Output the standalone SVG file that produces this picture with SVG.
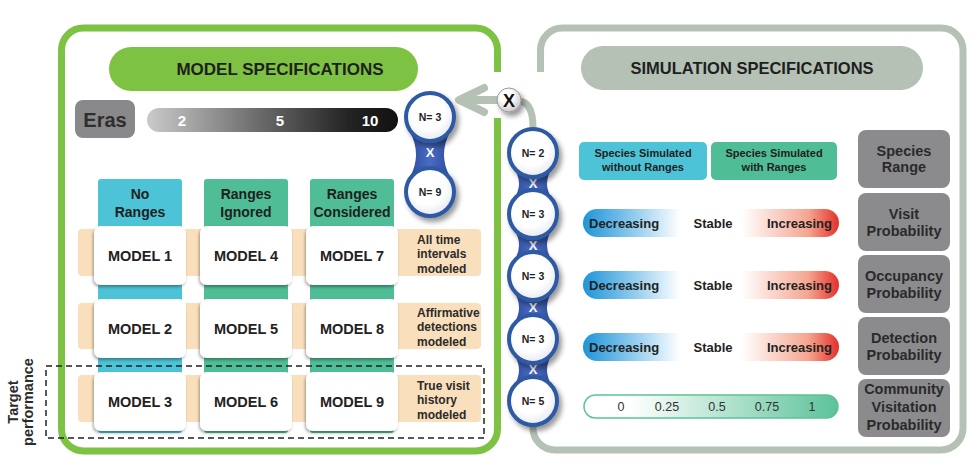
<svg xmlns="http://www.w3.org/2000/svg" width="978" height="471" viewBox="0 0 978 471">
<style>
.t{font-family:"Liberation Sans",Arial,sans-serif;font-weight:bold;}
.r{font-family:"Liberation Sans",Arial,sans-serif;font-weight:normal;}
.c{text-anchor:middle;}
.model{fill:#fff;}
.mt{font-size:14.5px;fill:#222;}
.rowlab{font-size:12px;fill:#2b2b2b;}
.gbox{fill:#8b8b8d;}
.gt{font-size:14.5px;fill:#2a2a2a;}
.ring{fill:url(#ringFill);stroke:#2e5aa3;stroke-width:4;}
.nt{font-size:10.5px;fill:#222;}
.xt{font-size:13px;fill:#fff;}
.neck{fill:url(#blueG);}
.tr{font-size:13px;fill:#222;}
</style>
<defs>
<linearGradient id="erasG" x1="0" y1="0" x2="1" y2="0">
<stop offset="0" stop-color="#cacaca"/><stop offset="0.45" stop-color="#6a6a6a"/><stop offset="0.8" stop-color="#242424"/><stop offset="1" stop-color="#111"/>
</linearGradient>
<linearGradient id="trendG" x1="0" y1="0" x2="1" y2="0">
<stop offset="0" stop-color="#1e95d8"/><stop offset="0.12" stop-color="#62b5e5"/><stop offset="0.38" stop-color="#fff"/><stop offset="0.62" stop-color="#fff"/><stop offset="0.88" stop-color="#f5a590"/><stop offset="1" stop-color="#e4302a"/>
</linearGradient>
<linearGradient id="commG" x1="0" y1="0" x2="1" y2="0">
<stop offset="0" stop-color="#fff"/><stop offset="0.18" stop-color="#fff"/><stop offset="1" stop-color="#5cc299"/>
</linearGradient>
<linearGradient id="blueG" x1="0" y1="0" x2="1" y2="0">
<stop offset="0" stop-color="#2d4c9c"/><stop offset="0.5" stop-color="#4a6cc4"/><stop offset="1" stop-color="#2d4c9c"/>
</linearGradient>
<radialGradient id="ringFill" cx="0.45" cy="0.4" r="0.6">
<stop offset="0.6" stop-color="#fff"/><stop offset="1" stop-color="#e6e9f2"/>
</radialGradient>
<radialGradient id="xFill" cx="0.4" cy="0.35" r="0.65">
<stop offset="0.4" stop-color="#fff"/><stop offset="1" stop-color="#c9c9c9"/>
</radialGradient>
<filter id="msh" x="-20%" y="-20%" width="140%" height="150%">
<feDropShadow dx="-1" dy="2" stdDeviation="1.5" flood-color="#000" flood-opacity="0.35"/>
</filter>
<filter id="csh" x="-30%" y="-30%" width="170%" height="170%">
<feDropShadow dx="3" dy="4" stdDeviation="2.5" flood-color="#000" flood-opacity="0.4"/>
</filter>
</defs>

<g id="frames" fill="none">
<path d="M497.5,118 L497.5,429 A22,22 0 0 1 475.5,451 L83.5,451 A22,22 0 0 1 61.5,429 L61.5,50 A22,22 0 0 1 83.5,28 L475.5,28 A22,22 0 0 1 497.5,50 L497.5,72" stroke="#7dc242" stroke-width="7"/>
<path d="M540.5,72 L540.5,50 A22,22 0 0 1 562.5,28 L941,28 A22,22 0 0 1 963,50 L963,428 A22,22 0 0 1 941,450 L555,450 A22,22 0 0 1 533,428 L533,390" stroke="#b5c1b5" stroke-width="7"/>
</g>

<g id="model-header">
<rect x="109" y="47" width="309" height="44" rx="22" fill="#7dc242"/>
<text class="t c" x="280" y="75" font-size="17" fill="#1f1f1f">MODEL SPECIFICATIONS</text>
</g>
<g id="sim-header">
<rect x="581" y="46" width="342" height="44" rx="22" fill="#b5c1b5"/>
<text class="t c" x="752" y="74" font-size="16.5" fill="#1f1f1f">SIMULATION SPECIFICATIONS</text>
</g>

<g id="eras">
<rect x="75" y="100" width="60" height="38" rx="8" fill="#89898b"/>
<text class="t c" x="105" y="126.5" font-size="20" fill="#2e2e2e">Eras</text>
</g>
<g id="eras-bar">
<rect x="147" y="108" width="251" height="24" rx="12" fill="url(#erasG)"/>
<text class="t c" x="182" y="125.5" font-size="15" fill="#fff">2</text>
<text class="t c" x="280" y="125.5" font-size="15" fill="#fff">5</text>
<text class="t c" x="370" y="125.5" font-size="15" fill="#fff">10</text>
</g>

<g id="columns">
<rect x="98" y="179" width="84" height="254" rx="3" fill="#4cc3d6"/>
<rect x="204" y="179" width="84" height="254" rx="3" fill="#4fbd95"/>
<rect x="310" y="179" width="84" height="254" rx="3" fill="#4fbd95"/>
<text class="t c" x="140" y="199" font-size="14" fill="#1f1f1f">No</text>
<text class="t c" x="140" y="217" font-size="14" fill="#1f1f1f">Ranges</text>
<text class="t c" x="246" y="199" font-size="14" fill="#1f1f1f">Ranges</text>
<text class="t c" x="246" y="217" font-size="14" fill="#1f1f1f">Ignored</text>
<text class="t c" x="352" y="199" font-size="14" fill="#1f1f1f">Ranges</text>
<text class="t c" x="352" y="217" font-size="14" fill="#1f1f1f">Considered</text>
</g>

<g id="rows">
<rect x="78" y="229" width="403" height="47" rx="4" fill="#fadfbc"/>
<rect x="78" y="303" width="403" height="46" rx="4" fill="#fadfbc"/>
<rect x="78" y="375" width="403" height="47" rx="4" fill="#fadfbc"/>
<text class="t rowlab" x="417" y="244">All time</text>
<text class="t rowlab" x="417" y="258">intervals</text>
<text class="t rowlab" x="417" y="273">modeled</text>
<text class="t rowlab" x="417" y="317">Affirmative</text>
<text class="t rowlab" x="417" y="331">detections</text>
<text class="t rowlab" x="417" y="346">modeled</text>
<text class="t rowlab" x="417" y="390">True visit</text>
<text class="t rowlab" x="417" y="404">history</text>
<text class="t rowlab" x="417" y="419">modeled</text>
</g>

<g id="model1"><rect class="model" x="94" y="226" width="92" height="59" rx="7" filter="url(#msh)"/><text class="t c mt" x="140" y="260.5">MODEL 1</text></g>
<g id="model4"><rect class="model" x="200" y="226" width="92" height="59" rx="7" filter="url(#msh)"/><text class="t c mt" x="246" y="260.5">MODEL 4</text></g>
<g id="model7"><rect class="model" x="306" y="226" width="92" height="59" rx="7" filter="url(#msh)"/><text class="t c mt" x="352" y="260.5">MODEL 7</text></g>
<g id="model2"><rect class="model" x="94" y="299" width="92" height="59" rx="7" filter="url(#msh)"/><text class="t c mt" x="140" y="333.5">MODEL 2</text></g>
<g id="model5"><rect class="model" x="200" y="299" width="92" height="59" rx="7" filter="url(#msh)"/><text class="t c mt" x="246" y="333.5">MODEL 5</text></g>
<g id="model8"><rect class="model" x="306" y="299" width="92" height="59" rx="7" filter="url(#msh)"/><text class="t c mt" x="352" y="333.5">MODEL 8</text></g>
<g id="model3"><rect class="model" x="94" y="372" width="92" height="59" rx="7" filter="url(#msh)"/><text class="t c mt" x="140" y="406.5">MODEL 3</text></g>
<g id="model6"><rect class="model" x="200" y="372" width="92" height="59" rx="7" filter="url(#msh)"/><text class="t c mt" x="246" y="406.5">MODEL 6</text></g>
<g id="model9"><rect class="model" x="306" y="372" width="92" height="59" rx="7" filter="url(#msh)"/><text class="t c mt" x="352" y="406.5">MODEL 9</text></g>

<g id="target">
<rect x="46" y="366" width="438" height="72" fill="none" stroke="#222" stroke-width="1.5" stroke-dasharray="6 4"/>
<g transform="translate(0,402) rotate(-90)">
<text class="t c" x="0" y="17.5" font-size="14.5" fill="#2b2b2b">Target</text>
<text class="t c" x="0" y="32.5" font-size="14.5" fill="#2b2b2b">performance</text>
</g>
</g>

<g id="species-boxes">
<rect x="579" y="142" width="128" height="38" rx="5" fill="#4cc3d6"/>
<rect x="711" y="142" width="126" height="38" rx="5" fill="#4fbd95"/>
<text class="t c" x="643" y="157" font-size="11" fill="#1f1f1f">Species Simulated</text>
<text class="t c" x="643" y="171" font-size="11" fill="#1f1f1f">without Ranges</text>
<text class="t c" x="774" y="157" font-size="11" fill="#1f1f1f">Species Simulated</text>
<text class="t c" x="774" y="171" font-size="11" fill="#1f1f1f">with Ranges</text>
</g>

<g id="param-labels">
<rect class="gbox" x="858" y="130" width="92" height="58" rx="8"/>
<text class="t c gt" x="904" y="156">Species</text><text class="t c gt" x="904" y="172">Range</text>
<rect class="gbox" x="858" y="193" width="92" height="58" rx="8"/>
<text class="t c gt" x="904" y="218.5">Visit</text><text class="t c gt" x="904" y="235.5">Probability</text>
<rect class="gbox" x="858" y="255" width="92" height="58" rx="8"/>
<text class="t c gt" x="904" y="280.5">Occupancy</text><text class="t c gt" x="904" y="297.5">Probability</text>
<rect class="gbox" x="858" y="317" width="92" height="58" rx="8"/>
<text class="t c gt" x="904" y="342.5">Detection</text><text class="t c gt" x="904" y="359.5">Probability</text>
<rect class="gbox" x="858" y="379" width="92" height="58" rx="8"/>
<text class="t c gt" x="904" y="394">Community</text><text class="t c gt" x="904" y="412">Visitation</text><text class="t c gt" x="904" y="430">Probability</text>
</g>

<g id="trend-bars">
<rect x="583" y="209" width="256" height="28" rx="14" fill="url(#trendG)"/>
<text class="t tr" x="589" y="227.5">Decreasing</text><text class="t c tr" x="713" y="227.5">Stable</text><text class="t tr" x="832" y="227.5" text-anchor="end">Increasing</text>
<rect x="583" y="271" width="256" height="28" rx="14" fill="url(#trendG)"/>
<text class="t tr" x="589" y="289.5">Decreasing</text><text class="t c tr" x="713" y="289.5">Stable</text><text class="t tr" x="832" y="289.5" text-anchor="end">Increasing</text>
<rect x="583" y="333" width="256" height="28" rx="14" fill="url(#trendG)"/>
<text class="t tr" x="589" y="351.5">Decreasing</text><text class="t c tr" x="713" y="351.5">Stable</text><text class="t tr" x="832" y="351.5" text-anchor="end">Increasing</text>
</g>
<g id="community-bar">
<rect x="584" y="395" width="254" height="23" rx="11.5" fill="url(#commG)" stroke="#5cc299" stroke-width="1.5"/>
<text class="r c" x="621" y="411" font-size="12.5" fill="#333">0</text>
<text class="r c" x="667" y="411" font-size="12.5" fill="#333">0.25</text>
<text class="r c" x="717" y="411" font-size="12.5" fill="#333">0.5</text>
<text class="r c" x="767" y="411" font-size="12.5" fill="#333">0.75</text>
<text class="r c" x="812" y="411" font-size="12.5" fill="#333">1</text>
</g>

<g id="connectors" fill="none" stroke="#b5c1b5" stroke-linecap="round" stroke-linejoin="round">
<path d="M518,101 Q533,101 533,128" stroke-width="7"/>
<path d="M497,100 L460,100 M484,88 L459,100 L484,112" stroke-width="8"/>
</g>

<g id="cross-x">
<circle cx="509" cy="100" r="12" fill="url(#xFill)" stroke="#9a9a9a" stroke-width="1" filter="url(#csh)"/>
<text class="t c" x="509" y="106.5" font-size="18" fill="#111">X</text>
</g>

<g id="left-chain">
<path class="neck" d="M410,132 Q422,154.5 410,177 L450,177 Q438,154.5 450,132 Z"/>
<text class="t c xt" x="430" y="157">X</text>
<g id="nL1"><circle class="ring" cx="430" cy="117" r="24" filter="url(#csh)"/><text class="t c nt" x="430" y="121">N= 3</text></g>
<g id="nL2"><circle class="ring" cx="430" cy="192" r="24" filter="url(#csh)"/><text class="t c nt" x="430" y="196">N= 9</text></g>
</g>

<g id="right-chain">
<path class="neck" d="M513,167 Q525,183.5 513,200 L553,200 Q541,183.5 553,167 Z"/>
<path class="neck" d="M513,228 Q525,245 513,262 L553,262 Q541,245 553,228 Z"/>
<path class="neck" d="M513,290 Q525,307.5 513,325 L553,325 Q541,307.5 553,290 Z"/>
<path class="neck" d="M513,353 Q525,370 513,387 L553,387 Q541,370 553,353 Z"/>
<text class="t c xt" x="533" y="188">X</text>
<text class="t c xt" x="533" y="250">X</text>
<text class="t c xt" x="533" y="312">X</text>
<text class="t c xt" x="533" y="374">X</text>
<g id="nR1"><circle class="ring" cx="533" cy="153" r="24" filter="url(#csh)"/><text class="t c nt" x="533" y="157">N= 2</text></g>
<g id="nR2"><circle class="ring" cx="533" cy="214" r="24" filter="url(#csh)"/><text class="t c nt" x="533" y="218">N= 3</text></g>
<g id="nR3"><circle class="ring" cx="533" cy="276" r="24" filter="url(#csh)"/><text class="t c nt" x="533" y="280">N= 3</text></g>
<g id="nR4"><circle class="ring" cx="533" cy="339" r="24" filter="url(#csh)"/><text class="t c nt" x="533" y="343">N= 3</text></g>
<g id="nR5"><circle class="ring" cx="533" cy="401" r="24" filter="url(#csh)"/><text class="t c nt" x="533" y="405">N= 5</text></g>
</g>
</svg>
